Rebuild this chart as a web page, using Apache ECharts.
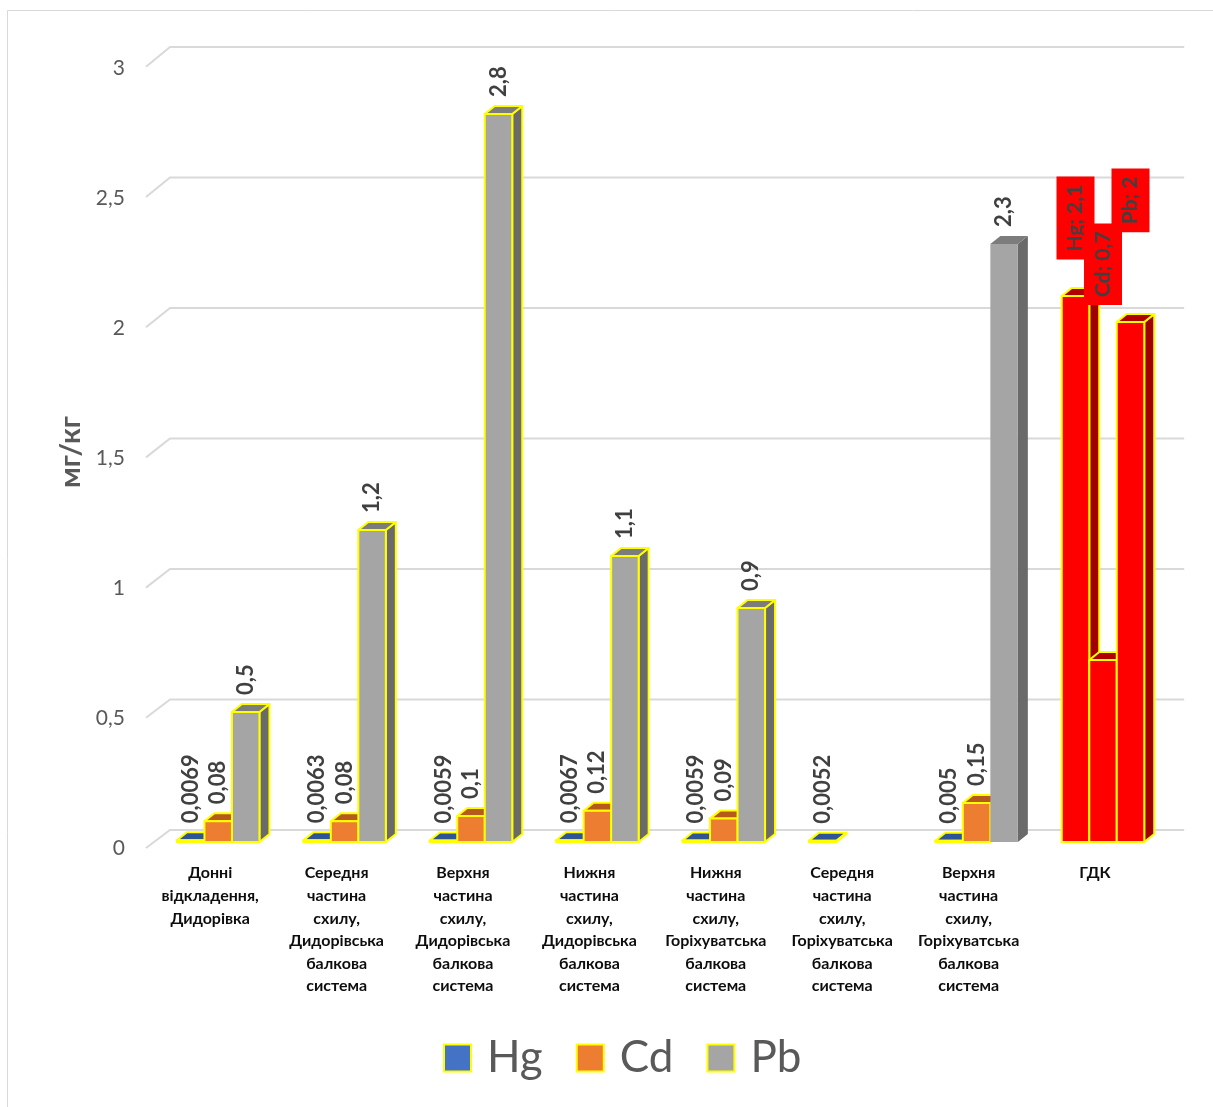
<!DOCTYPE html>
<html>
<head>
<meta charset="utf-8">
<script src="https://cdn.jsdelivr.net/npm/echarts@6/dist/echarts.min.js"></script>
<style>
html, body { margin: 0; padding: 0; background: #ffffff; }
#chart { width: 1213px; height: 1107px; }
</style>
</head>
<body>
<div id="chart"></div>
<script>
// Sampling sites (category axis)
const categories = [
  'Донні\nвідкладення,\nДидорівка',
  'Середня\nчастина\nсхилу,\nДидорівська\nбалкова\nсистема',
  'Верхня\nчастина\nсхилу,\nДидорівська\nбалкова\nсистема',
  'Нижня\nчастина\nсхилу,\nДидорівська\nбалкова\nсистема',
  'Нижня\nчастина\nсхилу,\nГоріхуватська\nбалкова\nсистема',
  'Середня\nчастина\nсхилу,\nГоріхуватська\nбалкова\nсистема',
  'Верхня\nчастина\nсхилу,\nГоріхуватська\nбалкова\nсистема',
  'ГДК'
];

// Heavy metal content, mg/kg
const hgValues = [0.0069, 0.0063, 0.0059, 0.0067, 0.0059, 0.0052, 0.005, 2.1];
const cdValues = [0.08, 0.08, 0.1, 0.12, 0.09, null, 0.15, 0.7];
const pbValues = [0.5, 1.2, 2.8, 1.1, 0.9, null, 2.3, 2];

// Value axis ticks
const yTicks = [0, 0.5, 1, 1.5, 2, 2.5, 3];

const FONT = 'Lato, "Open Sans", sans-serif';
const BAR_W = 27.5;   // width of a column's front face
const DX = 10, DY = -8; // depth offset of the pseudo-3D columns
const OUTLINE = '#FFFF00';

const palettes = {
  Hg: { front: '#4472C4', top: '#2F5597', side: '#2B4F8C' },
  Cd: { front: '#ED7D31', top: '#B5591C', side: '#A9531B' },
  Pb: { front: '#A5A5A5', top: '#7C7C7C', side: '#6A6A6A' }
};
const limitPalette = { front: '#FF0000', top: '#B00000', side: '#A00000' };
const limitIndex = categories.length - 1;
// label heights (in axis units) for the limit-value column labels
const limitLabelLevel = { Hg: 2.24, Cd: 2.065, Pb: 2.345 };

function fmt(v) { return String(v).replace('.', ','); }

function barRenderer(sIdx, name) {
  return function (params, api) {
    const ci = api.value(0);
    const v = api.value(1);
    if (v == null || isNaN(v)) return null;
    const base = api.coord([ci, 0]);
    const top = api.coord([ci, v]);
    const x0 = base[0] + (sIdx - 1.5) * BAR_W;
    const x1 = x0 + BAR_W;
    const yb = base[1], yt = top[1];
    const isLimit = ci === limitIndex;
    const pal = isLimit ? limitPalette : palettes[name];
    const outlined = !(ci === 6 && name === 'Pb');
    const stroke = outlined ? OUTLINE : null;
    const lw = outlined ? 2 : 0;
    const children = [
      {
        type: 'polygon',
        shape: { points: [[x1, yt], [x1 + DX, yt + DY], [x1 + DX, yb + DY], [x1, yb]] },
        style: { fill: pal.side, stroke: stroke, lineWidth: lw, lineJoin: 'round' }
      },
      {
        type: 'polygon',
        shape: { points: [[x0, yt], [x0 + DX, yt + DY], [x1 + DX, yt + DY], [x1, yt]] },
        style: { fill: pal.top, stroke: stroke, lineWidth: lw, lineJoin: 'round' }
      },
      {
        type: 'rect',
        shape: { x: x0, y: yt, width: BAR_W, height: yb - yt },
        style: { fill: pal.front, stroke: stroke, lineWidth: lw, lineJoin: 'round' }
      }
    ];
    const cx = (x0 + x1) / 2;
    if (isLimit) {
      const ly = api.coord([ci, limitLabelLevel[name]])[1];
      children.push({
        type: 'text', x: cx, y: ly, rotation: Math.PI / 2, z2: 10,
        style: {
          text: name + '; ' + fmt(v), fill: '#404040',
          font: 'bold 21px ' + FONT, lineHeight: 23, align: 'left', verticalAlign: 'middle',
          backgroundColor: '#FF0000', padding: [8, 8, 7, 8]
        }
      });
    } else {
      children.push({
        type: 'text', x: cx, y: yt - 17, rotation: Math.PI / 2, z2: 10,
        style: {
          text: fmt(v), fill: '#404040',
          font: 'bold 22px ' + FONT, align: 'left', verticalAlign: 'middle'
        }
      });
    }
    return { type: 'group', children: children };
  };
}

function gridRenderer(params, api) {
  const v = api.value(1);
  const cs = params.coordSys;
  const y = api.coord([0, v])[1];
  const xFront = cs.x - 9, xBack = cs.x + 15, xRight = cs.x + cs.width + 18;
  const yFront = y + 6 - v * 0.4;
  const yBack = y - 12 - v;
  return {
    type: 'polyline',
    shape: { points: [[xFront, yFront], [xBack, yBack], [xRight, yBack]] },
    style: { stroke: '#D9D9D9', lineWidth: 2, fill: null }
  };
}

function toPairs(arr) { return arr.map((v, i) => [i, v]); }

const metals = [
  { name: 'Hg', values: hgValues },
  { name: 'Cd', values: cdValues },
  { name: 'Pb', values: pbValues }
];

const chart = echarts.init(document.getElementById('chart'), null, { renderer: 'canvas' });

chart.setOption({
  animation: false,
  backgroundColor: '#ffffff',
  graphic: [{
    type: 'rect', silent: true,
    shape: { x: 7.5, y: 10.5, width: 1300, height: 1300 },
    style: { fill: null, stroke: '#D9D9D9', lineWidth: 1 }
  }],
  grid: { left: 155, top: 62, width: 1011.2, height: 780 },
  xAxis: {
    type: 'category',
    data: categories,
    axisLine: { show: false },
    axisTick: { show: false },
    splitLine: { show: false },
    axisLabel: {
      interval: 0, margin: 20, color: '#0D0D0D',
      fontFamily: FONT, fontWeight: 'bold', fontSize: 16, lineHeight: 22.6,
      padding: [0, 16, 0, 0]
    }
  },
  yAxis: {
    type: 'value', min: 0, max: 3, interval: 0.5,
    name: 'мг/кг', nameLocation: 'middle', nameGap: 70,
    nameTextStyle: { color: '#595959', fontFamily: FONT, fontWeight: 'bold', fontSize: 29 },
    axisLine: { show: false },
    axisTick: { show: false },
    splitLine: { show: false },
    axisLabel: {
      margin: 30, color: '#595959', fontFamily: FONT, fontSize: 21,
      verticalAlign: 'top', lineHeight: 12,
      formatter: fmt
    }
  },
  legend: {
    left: 438, top: 1030,
    itemWidth: 27, itemHeight: 27, itemGap: 33,
    icon: 'rect',
    selectedMode: false,
    textStyle: { fontSize: 44, lineHeight: 46, color: '#595959', fontFamily: FONT, padding: [0, 0, 0, 11] },
    data: metals.map(m => ({
      name: m.name,
      itemStyle: { color: palettes[m.name].front, borderColor: OUTLINE, borderWidth: 2 }
    }))
  },
  series: [
    {
      type: 'custom', name: 'grid', silent: true, z: 0,
      renderItem: gridRenderer,
      data: yTicks.map(v => [0, v])
    }
  ].concat(metals.map((m, i) => ({
    type: 'custom', name: m.name, silent: true, z: 2 + i,
    itemStyle: { color: palettes[m.name].front, borderColor: OUTLINE, borderWidth: 2 },
    encode: { x: 0, y: 1 },
    renderItem: barRenderer(i, m.name),
    data: toPairs(m.values)
  })))
});
</script>
</body>
</html>
